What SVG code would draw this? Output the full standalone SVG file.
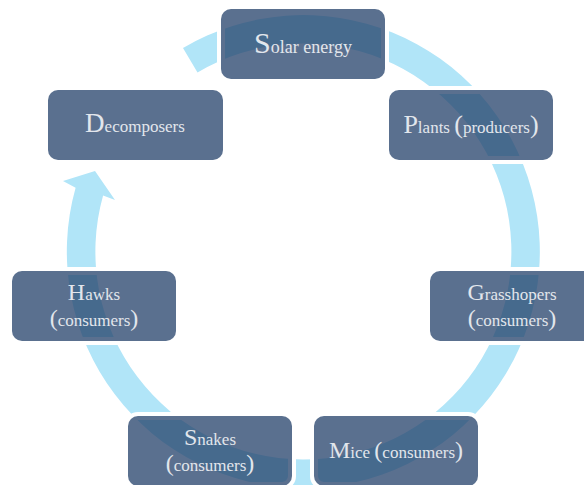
<svg xmlns="http://www.w3.org/2000/svg" width="584" height="485" viewBox="0 0 584 485">
<style>
.arc{fill:#b1e5f8;stroke:none}
.halo{fill:none;stroke:#ffffff;stroke-width:8}
.box{fill:#23406a;fill-opacity:0.75;stroke:none}
.t{font-family:"Liberation Serif","DejaVu Serif",serif;font-size:17px;fill:#e2e6ec;text-anchor:middle}
.c{font-size:24px}
.c26{font-size:26px}
.c27{font-size:27px}
</style>
<rect width="584" height="485" fill="#ffffff"/>
<g id="connectors">
<path class="arc" d="M183,48 A236.5,236.5 0 1 1 75.6,187.8 L63,181 L95,171 L115,200 L103.1,195.4 A208,208 0 1 0 197.5,72.5 Z"/>
</g>
<g id="node-solar">
<rect class="halo" x="221" y="9" width="164" height="70" rx="10"/>
<rect class="box" x="221" y="9" width="164" height="70" rx="10"/>
<text class="t" x="303" y="53" style="font-size:18px"><tspan style="font-size:30px">S</tspan>olar energy</text>
</g>
<g id="node-decomposers">
<rect class="halo" x="48" y="90" width="175" height="70" rx="10"/>
<rect class="box" x="48" y="90" width="175" height="70" rx="10"/>
<text class="t" x="135" y="132"><tspan class="c27">D</tspan>ecomposers</text>
</g>
<g id="node-plants">
<rect class="halo" x="389" y="90" width="164" height="70" rx="10"/>
<rect class="box" x="389" y="90" width="164" height="70" rx="10"/>
<text class="t" x="471" y="133"><tspan class="c26">P</tspan>lants <tspan class="c26">(</tspan>producers<tspan class="c26">)</tspan></text>
</g>
<g id="node-grasshoppers">
<rect class="halo" x="430" y="271" width="164" height="70" rx="10"/>
<rect class="box" x="430" y="271" width="164" height="70" rx="10"/>
<text class="t" x="512" y="300"><tspan class="c">G</tspan>rasshopers</text>
<text class="t" x="512" y="326"><tspan class="c">(</tspan>consumers<tspan class="c">)</tspan></text>
</g>
<g id="node-mice">
<rect class="halo" x="314" y="416" width="164" height="70" rx="10"/>
<rect class="box" x="314" y="416" width="164" height="70" rx="10"/>
<text class="t" x="396" y="458"><tspan class="c">M</tspan>ice <tspan class="c">(</tspan>consumers<tspan class="c">)</tspan></text>
</g>
<g id="node-snakes">
<rect class="halo" x="128" y="416" width="164" height="70" rx="10"/>
<rect class="box" x="128" y="416" width="164" height="70" rx="10"/>
<text class="t" x="210" y="445"><tspan class="c">S</tspan>nakes</text>
<text class="t" x="210" y="471"><tspan class="c">(</tspan>consumers<tspan class="c">)</tspan></text>
</g>
<g id="node-hawks">
<rect class="halo" x="12" y="271" width="164" height="70" rx="10"/>
<rect class="box" x="12" y="271" width="164" height="70" rx="10"/>
<text class="t" x="94" y="300"><tspan class="c">H</tspan>awks</text>
<text class="t" x="94" y="326"><tspan class="c">(</tspan>consumers<tspan class="c">)</tspan></text>
</g>
</svg>
